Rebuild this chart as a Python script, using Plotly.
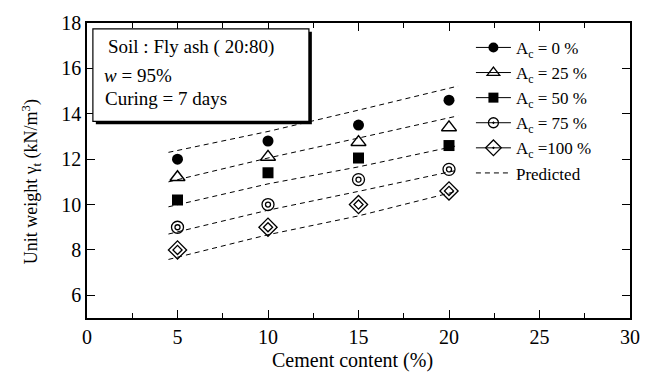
import plotly.graph_objects as go

# ---- data ----
cement = [5, 10, 15, 20]
ac_labels = ["0", "25", "50", "75", "100"]
uw_ac0 = [12.0, 12.8, 13.5, 14.6]
uw_ac25 = [11.2, 12.1, 12.75, 13.4]
uw_ac50 = [10.2, 11.4, 12.05, 12.6]
uw_ac75 = [9.0, 10.0, 11.1, 11.55]
uw_ac100 = [8.0, 9.0, 10.0, 10.6]

pred_x = [4.5, 10, 15, 20.5]
pred_ac0 = [12.3, 13.22, 14.16, 15.22]
pred_ac25 = [11.0, 12.05, 12.93, 13.91]
pred_ac50 = [9.9, 10.91, 11.66, 12.6]
pred_ac75 = [8.7, 9.75, 10.58, 11.52]
pred_ac100 = [7.58, 8.67, 9.5, 10.6]

series = [uw_ac0, uw_ac25, uw_ac50, uw_ac75, uw_ac100]
preds = [pred_ac0, pred_ac25, pred_ac50, pred_ac75, pred_ac100]

W, H = 652, 372
L, R, T, B = 87, 640, 18, 318
def px(xp):
    return (xp - L) / (R - L)
def py(yp):
    return (B - yp) / (B - T)

FONT = "Liberation Serif"
fig = go.Figure()

# predicted dashed lines
for p in preds:
    fig.add_trace(go.Scatter(x=pred_x, y=p, mode="lines", showlegend=False,
                             line=dict(color="black", width=1, dash="5px,4px"),
                             hoverinfo="skip"))

# data markers
mk = [
    [dict(symbol="circle", size=11, color="black")],
    [dict(symbol="triangle-up-open", size=13, color="black", line=dict(width=1.5, color="black"))],
    [dict(symbol="square", size=11, color="black")],
    [dict(symbol="circle-open", size=12, color="black", line=dict(width=1.3, color="black")),
     dict(symbol="circle-open", size=5, color="black", line=dict(width=1.3, color="black"))],
    [dict(symbol="diamond-open", size=14, color="black", line=dict(width=1.3, color="black")),
     dict(symbol="diamond-open", size=7, color="black", line=dict(width=1.3, color="black"))],
]
for s, mlist in zip(series, mk):
    for m in mlist:
        fig.add_trace(go.Scatter(x=cement, y=s, mode="markers", marker=m, showlegend=False))

# legend entries
leg_mk = [
    dict(symbol="circle", size=10, color="black"),
    dict(symbol="triangle-up-open", size=11, color="black", line=dict(width=1.3, color="black")),
    dict(symbol="square", size=10, color="black"),
    dict(symbol="circle-open-dot", size=10, color="black", line=dict(width=1.3, color="black")),
    dict(symbol="diamond-open-dot", size=12, color="black", line=dict(width=1.3, color="black")),
]
for lab, m in zip(ac_labels, leg_mk):
    sp = " " if lab != "100" else ""
    fig.add_trace(go.Scatter(x=[None], y=[None], mode="lines+markers",
                             name=f"A<sub>c</sub> ={sp}{lab} %", marker=m,
                             line=dict(color="black", width=1)))
fig.add_trace(go.Scatter(x=[None], y=[None], mode="lines", name="Predicted",
                         line=dict(color="black", width=1, dash="5px,4px")))

axis_common = dict(showline=True, linecolor="black", linewidth=1.5, mirror="allticks",
                   ticks="inside", ticklen=8, tickwidth=1.2, tickcolor="black",
                   showgrid=False, zeroline=False,
                   tickfont=dict(family=FONT, size=20, color="black"))
fig.update_xaxes(range=[0, 30], dtick=5, tick0=0,
                 minor=dict(dtick=2.5, ticks="inside", ticklen=5, tickwidth=1, tickcolor="black"),
                 **axis_common)
fig.update_yaxes(range=[5, 18], dtick=2, tick0=6, **axis_common)

# text box with shadow
fig.add_shape(type="rect", xref="paper", yref="paper", x0=px(96), x1=px(316), y0=py(121), y1=py(27),
              fillcolor="black", line=dict(width=0), layer="above")
fig.add_shape(type="rect", xref="paper", yref="paper", x0=px(93), x1=px(313), y0=py(118), y1=py(24),
              fillcolor="white", line=dict(color="black", width=1.2), layer="above")

box_lines = ["Soil : Fly ash ( 20:80)", "<i>w</i> = 95%", "Curing = 7 days"]
box_pos = [(106, 42), (102, 71), (103, 95)]
for txt, (bx, by) in zip(box_lines, box_pos):
    fig.add_annotation(text=txt, xref="paper", yref="paper", x=px(bx), y=py(by),
                       xanchor="left", yanchor="middle", showarrow=False,
                       font=dict(family=FONT, size=19, color="black"))

fig.add_annotation(text="Cement content (%)", xref="paper", yref="paper", x=px(357), y=py(361),
                   xanchor="center", yanchor="middle", showarrow=False,
                   font=dict(family=FONT, size=20, color="black"))
fig.add_annotation(text="Unit weight γ<sub>t</sub> (kN/m<sup>3</sup>)", xref="paper", yref="paper",
                   x=px(30), y=py(180), textangle=-90, xanchor="center", yanchor="middle",
                   showarrow=False, font=dict(family=FONT, size=18, color="black"))

fig.update_layout(width=W, height=H, margin=dict(l=L, r=W - R, t=T, b=H - B),
                  paper_bgcolor="white", plot_bgcolor="white",
                  legend=dict(x=px(478), y=py(25), xanchor="left", yanchor="top",
                              bgcolor="rgba(0,0,0,0)", font=dict(family=FONT, size=17, color="black"),
                              itemwidth=35, tracegroupgap=0),
                  font=dict(family=FONT, color="black"))

fig.write_html("out.html")
